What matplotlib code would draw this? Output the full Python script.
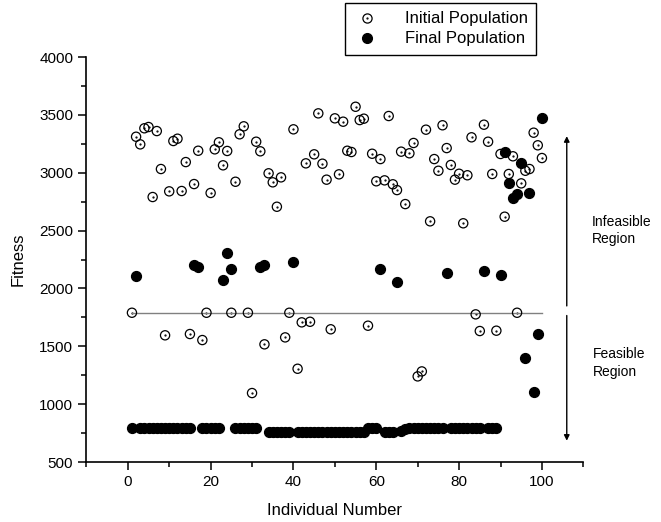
import numpy as np
import matplotlib
matplotlib.use("Agg")
import matplotlib.pyplot as plt
from matplotlib.lines import Line2D

plt.rcParams['font.family'] = ['Liberation Sans', 'DejaVu Sans']

# === DONNÉES ===
individuals = np.arange(1, 101)

initial_pop = [
    1790, 3311, 3245, 3384, 3395, 2790, 3360, 3032, 1595, 2839,
    3274, 3294, 2842, 3092, 1606, 2902, 3190, 1554, 1790, 2825,
    3202, 3263, 3064, 3188, 1790, 2922, 3332, 3401, 1790, 1096,
    3268, 3185, 1517, 2995, 2917, 2706, 2960, 1577, 1790, 3375,
    1306, 1707, 3081, 1712, 3159, 3513, 3078, 2940, 1647, 3470,
    2986, 3441, 3190, 3179, 3570, 3455, 3467, 1678, 3164, 2926,
    3118, 2934, 3490, 2900, 2850, 3182, 2729, 3168, 3257, 1240,
    1283, 3372, 2580, 3118, 3017, 3410, 3213, 3067, 2940, 2991,
    2563, 2978, 3306, 1776, 1632, 3415, 3268, 2989, 1635, 3162,
    2620, 2989, 3142, 1790, 2908, 3017, 3032, 3346, 3237, 3127,
]

final_pop = [
    790, 2105, 790, 790, 790, 790, 790, 790, 790, 790,
    790, 790, 790, 790, 790, 2202, 2188, 790, 790, 790,
    790, 790, 2073, 2309, 2168, 790, 790, 790, 790, 790,
    790, 2188, 2202, 757, 757, 757, 757, 757, 757, 2226,
    757, 757, 757, 757, 757, 757, 757, 757, 757, 757,
    757, 757, 757, 757, 757, 757, 757, 790, 790, 790,
    2165, 760, 760, 760, 2053, 765, 785, 790, 790, 790,
    790, 790, 790, 790, 790, 790, 2136, 790, 790, 790,
    790, 790, 790, 790, 790, 2153, 790, 790, 790, 2116,
    3176, 2908, 2784, 2813, 3081, 1401, 2827, 1107, 1603, 3470,
]

threshold = 1790
line_start, line_end = 1, 100

# === FIGURE ===
fig = plt.figure(figsize=(6.61, 5.22), dpi=100)
ax = fig.add_axes([0.1307, 0.1149, 0.7518, 0.7759])

# seuil de faisabilité
ax.plot([line_start, line_end], [threshold, threshold], color='#808080', lw=1, zorder=3)

# population initiale : cercles vides avec point central
ax.plot(individuals, initial_pop, linestyle='none', marker='.', markersize=1.2,
        color='black', zorder=2)
ax.scatter(individuals, initial_pop, s=44, facecolors='none', edgecolors='black',
           linewidths=0.9, zorder=4)
# population finale : cercles pleins
ax.scatter(individuals, final_pop, s=50, color='black', zorder=5)

ax.set_xlim(-10, 110)
ax.set_ylim(500, 4000)
ax.set_xticks(np.arange(0, 101, 20))
ax.set_xticks(np.arange(-10, 111, 20), minor=True)
ax.set_yticks(np.arange(500, 4001, 500))
ax.set_yticks(np.arange(750, 4000, 500), minor=True)
ax.tick_params(which='major', direction='out', length=6, width=1.1, labelsize=11)
ax.tick_params(which='minor', direction='out', length=3.5, width=1.1)
for s in ['top', 'right']:
    ax.spines[s].set_visible(False)
for s in ['left', 'bottom']:
    ax.spines[s].set_linewidth(1.2)

ax.set_xlabel('Individual Number', fontsize=12, labelpad=10)
ax.set_ylabel('Fitness', fontsize=12, labelpad=10)

# flèches régions
arrow_x = 106
ax.annotate('', xy=(arrow_x, 3340), xytext=(arrow_x, 1825),
            arrowprops=dict(arrowstyle='-|>', color='black', lw=1, mutation_scale=8),
            annotation_clip=False)
ax.annotate('', xy=(arrow_x, 660), xytext=(arrow_x, 1790),
            arrowprops=dict(arrowstyle='-|>', color='black', lw=1, mutation_scale=8),
            annotation_clip=False)
ax.text(112, 2500, 'Infeasible\nRegion', fontsize=10, ha='left', va='center',
        linespacing=1.3, clip_on=False)
ax.text(112.4, 1355, 'Feasible\nRegion', fontsize=10, ha='left', va='center',
        linespacing=1.3, clip_on=False)

# légende
h_init = (Line2D([], [], ls='none', marker='o', markersize=6.6, markerfacecolor='none',
                 markeredgecolor='black', markeredgewidth=0.9),
          Line2D([], [], ls='none', marker='.', markersize=1.2, color='black'))
h_final = Line2D([], [], ls='none', marker='o', markersize=7, color='black')
leg = fig.legend([h_init, h_final], ['Initial Population', 'Final Population'],
                 loc='upper left', bbox_to_anchor=(0.522, 0.994), fontsize=12,
                 frameon=True, fancybox=False, edgecolor='black', framealpha=1,
                 handlelength=1.6, handletextpad=1.5, borderpad=0.5,
                 labelspacing=0.3, borderaxespad=0)
leg.get_frame().set_linewidth(1)

plt.savefig('out.png', dpi=100)
